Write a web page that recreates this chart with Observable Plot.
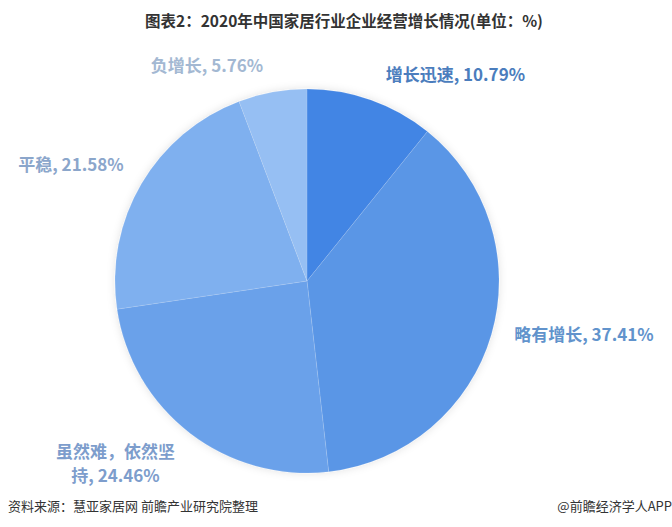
<!DOCTYPE html>
<html>
<head>
<meta charset="utf-8">
<script src="https://cdn.jsdelivr.net/npm/d3@7"></script>
<script src="https://cdn.jsdelivr.net/npm/@observablehq/plot@0.6"></script>
<style>
  body { margin: 0; background: #fff; font-family: "Noto Sans CJK SC", "Noto Sans", sans-serif; }
  #wrap { width: 672px; height: 527px; position: relative; overflow: hidden; }
  #title { height: 40px; line-height: 40px; text-align: center; font-weight: bold; font-size: 15.5px; color: #333; padding-left: 16px; }
  #footer { position: absolute; top: 496px; left: 0; width: 672px; font-size: 13px; color: #333; }
  #footer .l { position: absolute; left: 8px; }
  #footer .r { position: absolute; right: 0px; }
</style>
</head>
<body>
<div id="wrap">
  <div id="title">图表2：2020年中国家居行业企业经营增长情况(单位：%)</div>
  <div id="chart"></div>
  <div id="footer"><span class="l">资料来源：慧亚家居网 前瞻产业研究院整理</span><span class="r">@前瞻经济学人APP</span></div>
</div>
<script>
const categories = ["增长迅速", "略有增长", "虽然难，依然坚持", "平稳", "负增长"];
const values = [10.79, 37.41, 24.46, 21.58, 5.76];
const sliceColors = ["#4285e4", "#5a96e6", "#6aa1ea", "#7fb0ef", "#96bff3"];
const labelColors = ["#4b7dbd", "#6193cc", "#7d9dcc", "#8ba6cb", "#a3b8d2"];
// pixel nudges of each label away from its slice edge (layout styling)
const labelNudge = [[84, -27], [92, -2], [-75, 29], [-71, -21], [-66, -28]];

const data = categories.map((c, i) => ({name: c, value: values[i], i}));
const arcs = d3.pie().sort(null).value(d => d.value)(data);
arcs.forEach(a => { a.data.mid = (a.startAngle + a.endAngle) / 2; });

function labelText(d) {
  let n = d.name;
  if (n.length > 6) n = n.slice(0, 7) + "\n" + n.slice(7);
  return n + ", " + d.value.toFixed(2) + "%";
}

const pieMark = (index, scales, vals, dims, context) => {
  const cx = scales.x(0), cy = scales.y(0);
  const r = scales.x(1) - scales.x(0);
  const arc = d3.arc().innerRadius(0).outerRadius(r);
  const g = d3.create("svg:g").attr("transform", `translate(${cx},${cy})`);
  const defs = g.append("defs");
  const f = defs.append("filter").attr("id", "sh").attr("x", "-20%").attr("y", "-20%").attr("width", "140%").attr("height", "140%");
  f.append("feDropShadow").attr("dx", 0).attr("dy", 0).attr("stdDeviation", 4).attr("flood-color", "#000").attr("flood-opacity", 0.12);
  const pg = g.append("g").attr("filter", "url(#sh)");
  pg.selectAll("path").data(arcs).join("path")
    .attr("d", arc)
    .attr("fill", d => sliceColors[d.data.i])
    .attr("stroke", "#ffffff")
    .attr("stroke-opacity", 0.2)
    .attr("stroke-width", 0.6);
  return g.node();
};

const labelMarks = data.map((d, i) => Plot.text([d], {
  x: d => Math.sin(d.mid),
  y: d => Math.cos(d.mid),
  text: labelText,
  dx: labelNudge[i][0],
  dy: labelNudge[i][1],
  fill: labelColors[i],
  fontSize: 17,
  fontWeight: "bold",
  textAnchor: "middle",
  lineHeight: 1.4,
  fontFamily: "Noto Sans CJK SC"
}));

const chart = Plot.plot({
  width: 672,
  height: 448,
  marginLeft: 115,
  marginRight: 173,
  marginTop: 49,
  marginBottom: 15,
  x: {domain: [-1, 1], axis: null},
  y: {domain: [-1, 1], axis: null},
  style: {background: "transparent", overflow: "visible"},
  marks: [pieMark, ...labelMarks]
});
document.getElementById("chart").appendChild(chart);
</script>
</body>
</html>
